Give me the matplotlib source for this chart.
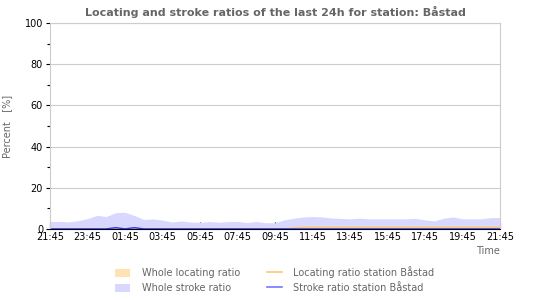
import numpy as np
import matplotlib
matplotlib.use('Agg')
import matplotlib.pyplot as plt
import matplotlib.dates as mdates
from matplotlib.patches import Patch
from matplotlib.lines import Line2D
from datetime import datetime, timedelta

# half-hourly samples over the last 24h
start = datetime(2024, 6, 1, 21, 45)
times = [start + timedelta(minutes=30 * i) for i in range(49)]

whole_stroke = [3.6, 3.6, 3.4, 4.0, 5.0, 6.6, 6.0, 7.9, 8.1, 6.5,
                4.6, 4.8, 4.3, 3.3, 3.9, 3.3, 3.2, 3.6, 3.2, 3.6,
                3.6, 3.1, 3.6, 3.0, 3.0, 4.4, 5.2, 5.8, 6.0, 5.8,
                5.3, 5.1, 4.9, 5.2, 4.9, 4.9, 4.9, 4.9, 4.9, 5.1,
                4.4, 3.9, 5.2, 5.8, 4.9, 4.9, 4.9, 5.5, 5.5]
whole_locating = [0.0, 0.0, 0.0, 0.0, 0.0, 0.0, 0.0, 0.0, 0.0, 0.0,
                  0.0, 0.0, 0.0, 0.0, 0.0, 0.0, 0.0, 0.0, 0.0, 0.0,
                  0.0, 0.0, 0.0, 0.0, 0.0, 0.3, 0.6, 0.8, 0.9, 0.9,
                  0.9, 0.9, 0.9, 0.9, 0.9, 0.9, 0.9, 0.9, 0.9, 0.9,
                  0.8, 0.8, 0.9, 0.9, 0.9, 0.9, 0.9, 0.9, 0.9]
station_locating = [0.0, 0.0, 0.0, 0.0, 0.0, 0.0, 0.0, 0.0, 0.0, 0.0,
                    0.0, 0.0, 0.0, 0.0, 0.0, 0.0, 0.0, 0.0, 0.0, 0.0,
                    0.0, 0.0, 0.0, 0.0, 0.0, 0.0, 0.5, 0.8, 0.8, 0.8,
                    0.8, 0.8, 0.8, 0.8, 0.8, 0.8, 0.8, 0.8, 0.8, 0.8,
                    0.8, 0.8, 0.8, 0.8, 0.8, 0.8, 0.8, 0.8, 0.8]
station_stroke = [0.0, 0.0, 0.0, 0.0, 0.0, 0.0, 0.0, 0.6, 0.0, 0.6,
                  0.0, 0.0, 0.0, 0.0, 0.0, 0.0, 0.0, 0.0, 0.0, 0.0,
                  0.0, 0.0, 0.0, 0.0, 0.0, 0.0, 0.0, 0.0, 0.0, 0.0,
                  0.0, 0.0, 0.0, 0.0, 0.0, 0.0, 0.0, 0.0, 0.0, 0.0,
                  0.0, 0.0, 0.0, 0.0, 0.0, 0.0, 0.0, 0.0, 0.0]

station = 'Båstad'
grey = '#666666'

fig = plt.figure(figsize=(5.5, 3.0), dpi=100)
ax = fig.add_axes([0.091, 0.237, 0.818, 0.686])

ax.fill_between(times, whole_stroke, color='#d8d8ff', lw=0)
ax.fill_between(times, whole_locating, color='#ffe2b4', lw=0)
ax.plot(times, station_locating, color='#ffc870', lw=1)
ax.plot(times, station_stroke, color='#3333ff', lw=1)

ax.set_xlim(times[0], times[-1])
ax.set_ylim(0, 100)
ax.set_xticks(times[::4])
ax.set_xticks(times, minor=True)
ax.xaxis.set_major_formatter(mdates.DateFormatter('%H:%M'))
ax.set_yticks(range(0, 101, 20))
ax.set_yticks(range(10, 100, 20), minor=True)

ax.grid(axis='y', color='#cccccc', lw=0.8)
ax.set_axisbelow(True)
for s in ['top', 'right', 'left']:
    ax.spines[s].set_color('#cccccc')
ax.spines['bottom'].set_color('#000000')
ax.tick_params(axis='x', which='major', direction='in', length=5, width=0.8,
               labelsize=7, pad=2)
ax.tick_params(axis='x', which='minor', direction='in', length=3, width=0.8)
ax.tick_params(axis='y', which='major', direction='out', length=3, width=0.8,
               labelsize=7, pad=2)
ax.tick_params(axis='y', which='minor', direction='out', length=2, width=0.8)

ax.set_title('Locating and stroke ratios of the last 24h for station: ' + station,
             fontsize=8, fontweight='bold', color=grey, pad=5)
ax.set_ylabel('Percent   [%]', fontsize=7, color=grey, labelpad=9)
ax.text(1.0, -0.085, 'Time', transform=ax.transAxes, ha='right', va='top',
        fontsize=7, color=grey)

handles = [Patch(facecolor='#ffe2b4', edgecolor='none'),
           Patch(facecolor='#d8d8ff', edgecolor='none'),
           Line2D([], [], color='#ffc870', lw=1.2),
           Line2D([], [], color='#7777ff', lw=1.2)]
labels = ['Whole locating ratio', 'Whole stroke ratio',
          'Locating ratio station ' + station, 'Stroke ratio station ' + station]
leg = fig.legend(handles, labels, ncol=2, loc='lower center',
                 bbox_to_anchor=(0.5, 0.0), frameon=False, fontsize=7,
                 handlelength=1.5, handleheight=1.0, handletextpad=1.2,
                 columnspacing=2.8, labelspacing=0.5, borderaxespad=0.3)
for t in leg.get_texts():
    t.set_color(grey)

fig.savefig('out.png', dpi=100)
